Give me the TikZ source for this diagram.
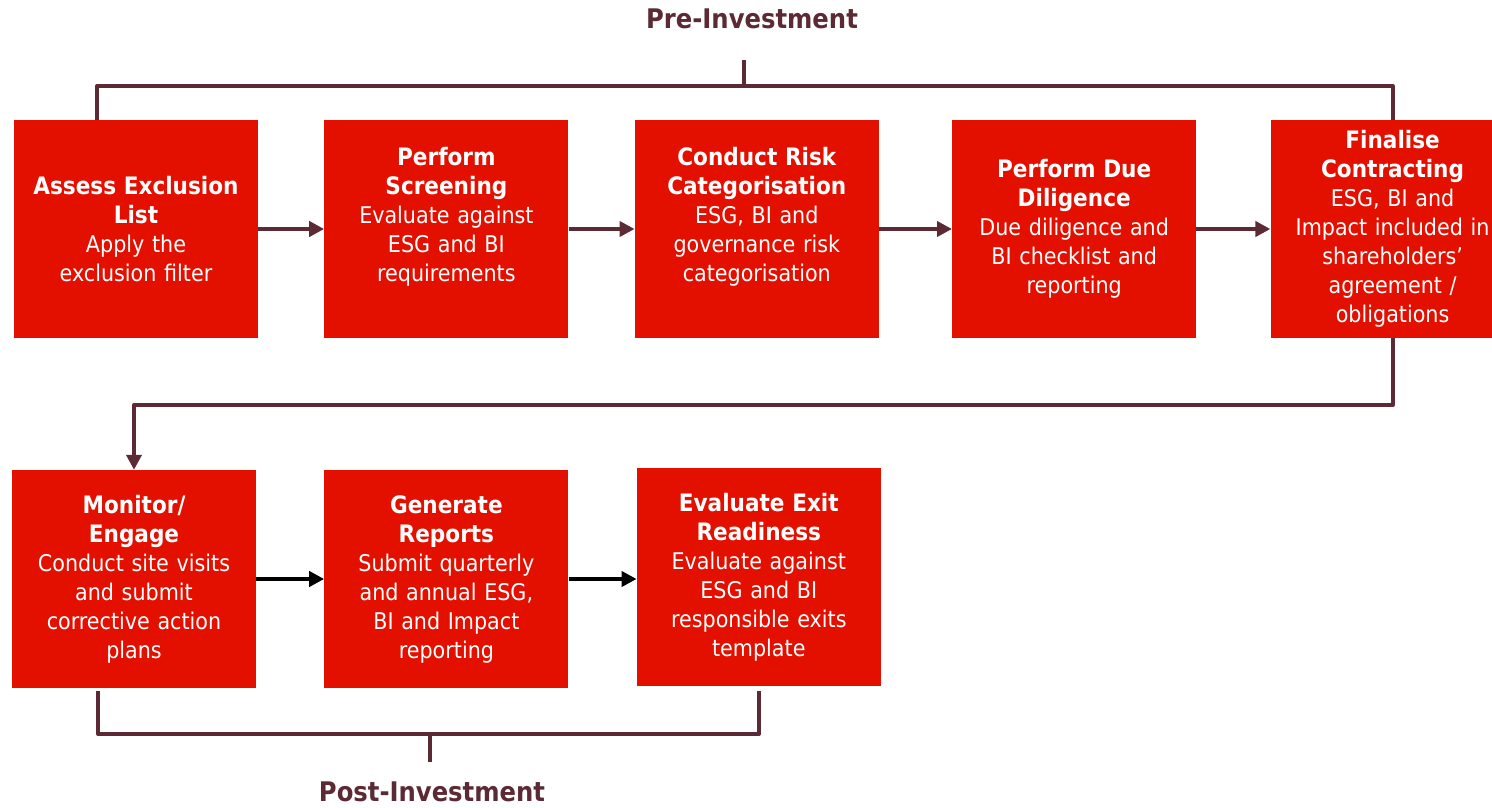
\documentclass[tikz,border=0pt]{standalone}
\usepackage{fontspec}
\setmainfont{DejaVu Sans Condensed}
\usetikzlibrary{positioning,arrows.meta}
\definecolor{stepred}{RGB}{227,16,0}
\definecolor{linkline}{RGB}{92,42,53}
\newcommand{\stagetitle}{\bfseries\fontsize{24}{29}\selectfont}
\tikzset{stage/.style={
        fill=stepred,
        minimum width=244pt,
        minimum height=218pt,
        text width=240pt,
        align=center,
        text=white,
        inner sep=0pt,
        font=\fontsize{23}{29}\selectfont } }
\tikzset{link/.style={
        line width=4pt,
        draw=linkline,
        line join=round,
        -{Triangle[length=15pt,width=15pt]} } }
\tikzset{brace/.style={ line width=4pt, draw=linkline, line join=round } }
\tikzset{phase/.style={ text=linkline, font=\bfseries\fontsize{27}{32}\selectfont } }

\begin{document}
\begin{tikzpicture}[x=1pt,y=-1pt]

\useasboundingbox (0,0) rectangle (1492,808);

%%PRE-INVESTMENT ROW
\node[stage] (exclusion) at (136,229)
{{\stagetitle Assess Exclusion\\List}\\Apply the\\exclusion filter};
\node[stage] (screening) [right = 66pt of exclusion]
{{\stagetitle Perform\\Screening}\\Evaluate against\\ESG and BI\\requirements\\\mbox{}};
\node[stage] (risk) [right = 66pt of screening]
{{\stagetitle Conduct Risk\\Categorisation}\\ESG, BI and\\governance risk\\categorisation\\\mbox{}};
\node[stage] (diligence) [right = 73pt of risk]
{{\stagetitle Perform Due\\Diligence}\\Due diligence and\\BI checklist and\\reporting};
\node[stage] (contracting) [right = 74pt of diligence]
{{\stagetitle Finalise\\Contracting}\\ESG, BI and\\Impact included in\\shareholders'\\agreement /\\obligations};

%%POST-INVESTMENT ROW
\node[stage] (monitor) at (134,579)
{{\stagetitle Monitor/\\Engage}\\Conduct site visits\\and submit\\corrective action\\plans};
\node[stage] (reports) [right = 68pt of monitor]
{{\stagetitle Generate\\Reports}\\Submit quarterly\\and annual ESG,\\BI and Impact\\reporting};
\node[stage] (exit) [right = 68pt of reports, yshift=2pt]
{{\stagetitle Evaluate Exit\\Readiness}\\Evaluate against\\ESG and BI\\responsible exits\\template};

%%PHASE LABELS
\node[phase] (pre) at (752,19) {Pre-Investment};
\node[phase] (post) at (432,792) {Post-Investment};

\coordinate (preBase) at (744,86);
\coordinate (preStem) at (744,60);
\coordinate (turn) at (0,405);
\coordinate (postBase) at (430,734);
\coordinate (postStem) at (430,762);

\draw[link] (exclusion.east) -- (screening.west);
\draw[link] (screening.east) -- (risk.west);
\draw[link] (risk.east) -- (diligence.west);
\draw[link] (diligence.east) -- (contracting.west);
\draw[link] (contracting.south) |- (turn -| monitor.north) -- (monitor.north);
\draw[link,draw=black] (monitor.east) -- (reports.west |- monitor.east);
\draw[link,draw=black] (reports.east) -- (exit.west |- reports.east);

%BRACKETS
\draw[brace] ([xshift=-39pt]exclusion.north) |- (preBase) -| (contracting.north);
\draw[brace] (preBase) -- (preStem);
\draw[brace] ([xshift=-36pt,yshift=-3pt]monitor.south) |- (postBase) -| ([yshift=-5pt]exit.south);
\draw[brace] (postBase) -- (postStem);

\end{tikzpicture}
\end{document}
